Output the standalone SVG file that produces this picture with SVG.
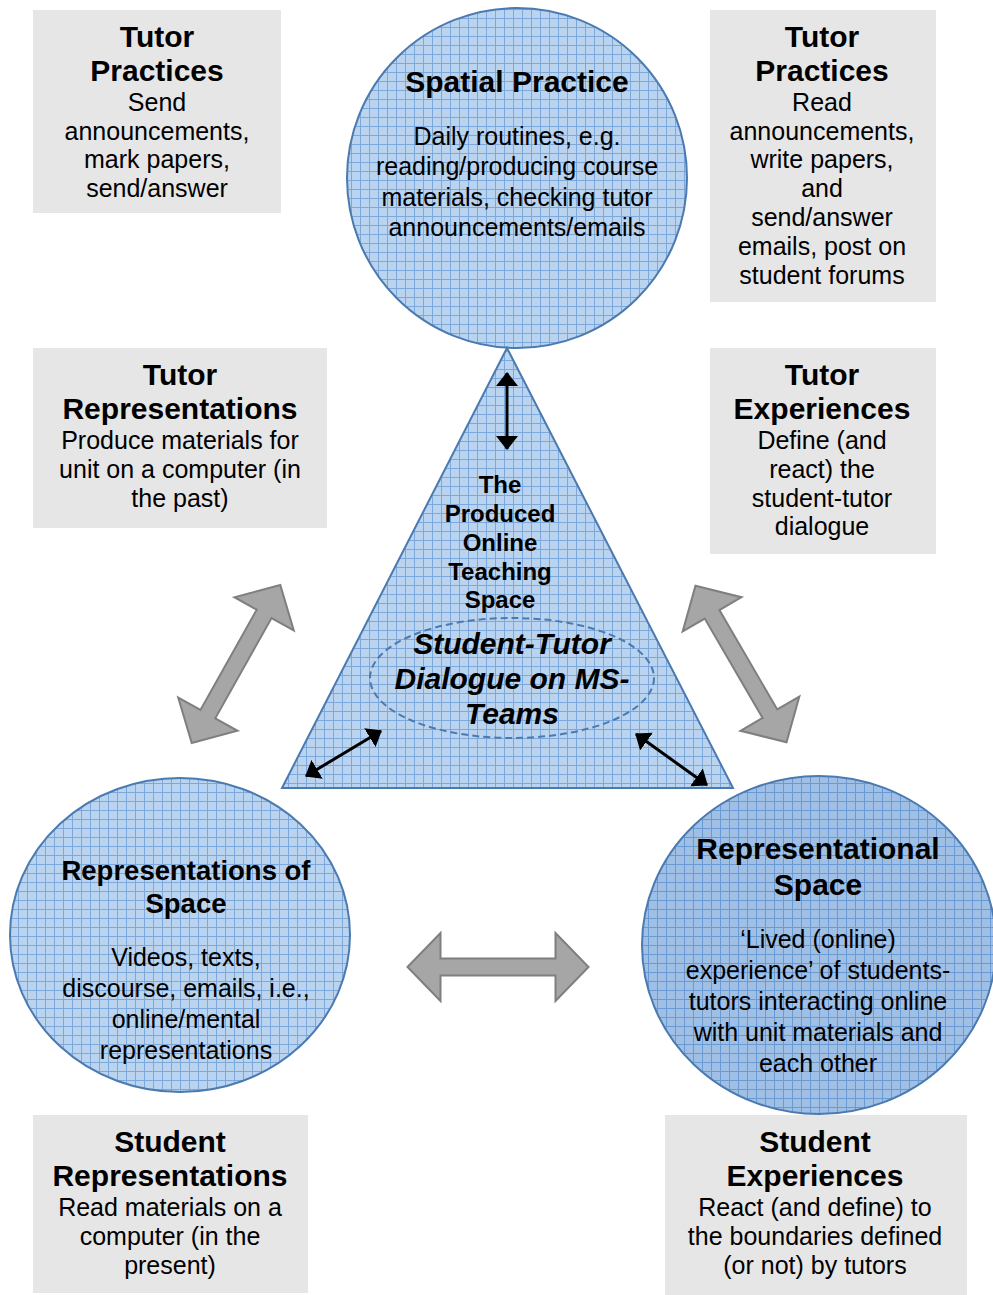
<svg xmlns="http://www.w3.org/2000/svg" width="993" height="1295" viewBox="0 0 993 1295">
<defs>
<pattern id="grid" width="9" height="9" patternUnits="userSpaceOnUse">
<rect width="9" height="9" fill="#bad3ef"/>
<path d="M0 0.5H9M0.5 0V9" stroke="#7ca8dc" stroke-width="1" fill="none"/>
</pattern>
<pattern id="gridDark" width="9" height="9" patternUnits="userSpaceOnUse">
<rect width="9" height="9" fill="#9fbfe5"/>
<path d="M0 0.5H9M0.5 0V9" stroke="#6a9ad3" stroke-width="1" fill="none"/>
</pattern>
<marker id="ah" viewBox="0 0 14 22" refX="13" refY="11" markerWidth="14" markerHeight="22" orient="auto-start-reverse" markerUnits="userSpaceOnUse">
<path d="M0 0L14 11L0 22Z" fill="#000"/>
</marker>
<path id="blockArrow" d="M-90.5 0L-57.5 -34L-57.5 -8.5L57.5 -8.5L57.5 -34L90.5 0L57.5 34L57.5 8.5L-57.5 8.5L-57.5 34Z"/>
</defs>
<style>
text{font-family:"Liberation Sans",Arial,sans-serif;fill:#000;text-anchor:middle}
.h{font-size:30px;font-weight:bold}
.hs{font-size:27.5px;font-weight:bold}
.b{font-size:25px}
.tb{font-size:24px;font-weight:bold}
.it{font-size:30px;font-weight:bold;font-style:italic}
.box{fill:#e6e6e6}
.shape{stroke:#4a7ab0;stroke-width:2}
.blk{fill:#a6a6a6;stroke:#7f7f7f;stroke-width:2}
.conn{stroke:#000;stroke-width:3;fill:none;marker-start:url(#ah);marker-end:url(#ah)}
</style>

<g id="box-tl">
<rect class="box" x="33" y="10" width="248" height="203"/>
<text class="h" x="157" y="47">Tutor</text>
<text class="h" x="157" y="81">Practices</text>
<text class="b" x="157" y="111">Send</text>
<text class="b" x="157" y="140">announcements,</text>
<text class="b" x="157" y="168">mark papers,</text>
<text class="b" x="157" y="197">send/answer</text>
</g>

<g id="box-tr">
<rect class="box" x="710" y="10" width="226" height="292"/>
<text class="h" x="822" y="47">Tutor</text>
<text class="h" x="822" y="81">Practices</text>
<text class="b" x="822" y="111">Read</text>
<text class="b" x="822" y="140">announcements,</text>
<text class="b" x="822" y="168">write papers,</text>
<text class="b" x="822" y="197">and</text>
<text class="b" x="822" y="226">send/answer</text>
<text class="b" x="822" y="255">emails, post on</text>
<text class="b" x="822" y="284">student forums</text>
</g>

<g id="box-ml">
<rect class="box" x="33" y="348" width="294" height="180"/>
<text class="h" x="180" y="385">Tutor</text>
<text class="h" x="180" y="419">Representations</text>
<text class="b" x="180" y="449">Produce materials for</text>
<text class="b" x="180" y="478">unit on a computer (in</text>
<text class="b" x="180" y="507">the past)</text>
</g>

<g id="box-mr">
<rect class="box" x="710" y="348" width="226" height="206"/>
<text class="h" x="822" y="385">Tutor</text>
<text class="h" x="822" y="419">Experiences</text>
<text class="b" x="822" y="449">Define (and</text>
<text class="b" x="822" y="478">react) the</text>
<text class="b" x="822" y="507">student-tutor</text>
<text class="b" x="822" y="535">dialogue</text>
</g>

<g id="box-bl">
<rect class="box" x="33" y="1115" width="275" height="178"/>
<text class="h" x="170" y="1152">Student</text>
<text class="h" x="170" y="1186">Representations</text>
<text class="b" x="170" y="1216">Read materials on a</text>
<text class="b" x="170" y="1245">computer (in the</text>
<text class="b" x="170" y="1274">present)</text>
</g>

<g id="box-br">
<rect class="box" x="665" y="1115" width="302" height="180"/>
<text class="h" x="815" y="1152">Student</text>
<text class="h" x="815" y="1186">Experiences</text>
<text class="b" x="815" y="1216">React (and define) to</text>
<text class="b" x="815" y="1245">the boundaries defined</text>
<text class="b" x="815" y="1274">(or not) by tutors</text>
</g>

<g id="spatial-practice">
<circle class="shape" cx="517" cy="178" r="170" fill="url(#grid)"/>
<text class="h" x="517" y="92">Spatial Practice</text>
<text class="b" x="517" y="145">Daily routines, e.g.</text>
<text class="b" x="517" y="175">reading/producing course</text>
<text class="b" x="517" y="206">materials, checking tutor</text>
<text class="b" x="517" y="236">announcements/emails</text>
</g>

<g id="produced-space">
<polygon class="shape" points="507,348 282,788 733,788" fill="url(#grid)"/>
<text class="tb" x="500" y="493">The</text>
<text class="tb" x="500" y="522">Produced</text>
<text class="tb" x="500" y="551">Online</text>
<text class="tb" x="500" y="580">Teaching</text>
<text class="tb" x="500" y="608">Space</text>
<ellipse cx="512" cy="678" rx="142" ry="60" fill="none" stroke="#4a7ab0" stroke-width="2" stroke-dasharray="7 4"/>
<text class="it" x="512" y="654">Student-Tutor</text>
<text class="it" x="512" y="689">Dialogue on MS-</text>
<text class="it" x="512" y="724">Teams</text>
</g>

<g id="representations-of-space">
<ellipse class="shape" cx="180" cy="935" rx="170" ry="157" fill="url(#grid)"/>
<text class="hs" x="186" y="880">Representations of</text>
<text class="hs" x="186" y="913">Space</text>
<text class="b" x="186" y="966">Videos, texts,</text>
<text class="b" x="186" y="997">discourse, emails, i.e.,</text>
<text class="b" x="186" y="1028">online/mental</text>
<text class="b" x="186" y="1059">representations</text>
</g>

<g id="representational-space">
<ellipse class="shape" cx="819" cy="945" rx="177" ry="169" fill="url(#gridDark)"/>
<text class="h" x="818" y="859">Representational</text>
<text class="h" x="818" y="895">Space</text>
<text class="b" x="818" y="948">‘Lived (online)</text>
<text class="b" x="818" y="979">experience’ of students-</text>
<text class="b" x="818" y="1010">tutors interacting online</text>
<text class="b" x="818" y="1041">with unit materials and</text>
<text class="b" x="818" y="1072">each other</text>
</g>

<g id="connectors">
<line class="conn" x1="507" y1="373" x2="507" y2="449"/>
<line class="conn" x1="306" y1="776" x2="381" y2="731"/>
<line class="conn" x1="636" y1="734" x2="707" y2="785"/>
<use href="#blockArrow" class="blk" transform="translate(236,664) rotate(-60.7)"/>
<use href="#blockArrow" class="blk" transform="translate(741,664) rotate(59.8)"/>
<use href="#blockArrow" class="blk" transform="translate(498,967)"/>
</g>
</svg>
